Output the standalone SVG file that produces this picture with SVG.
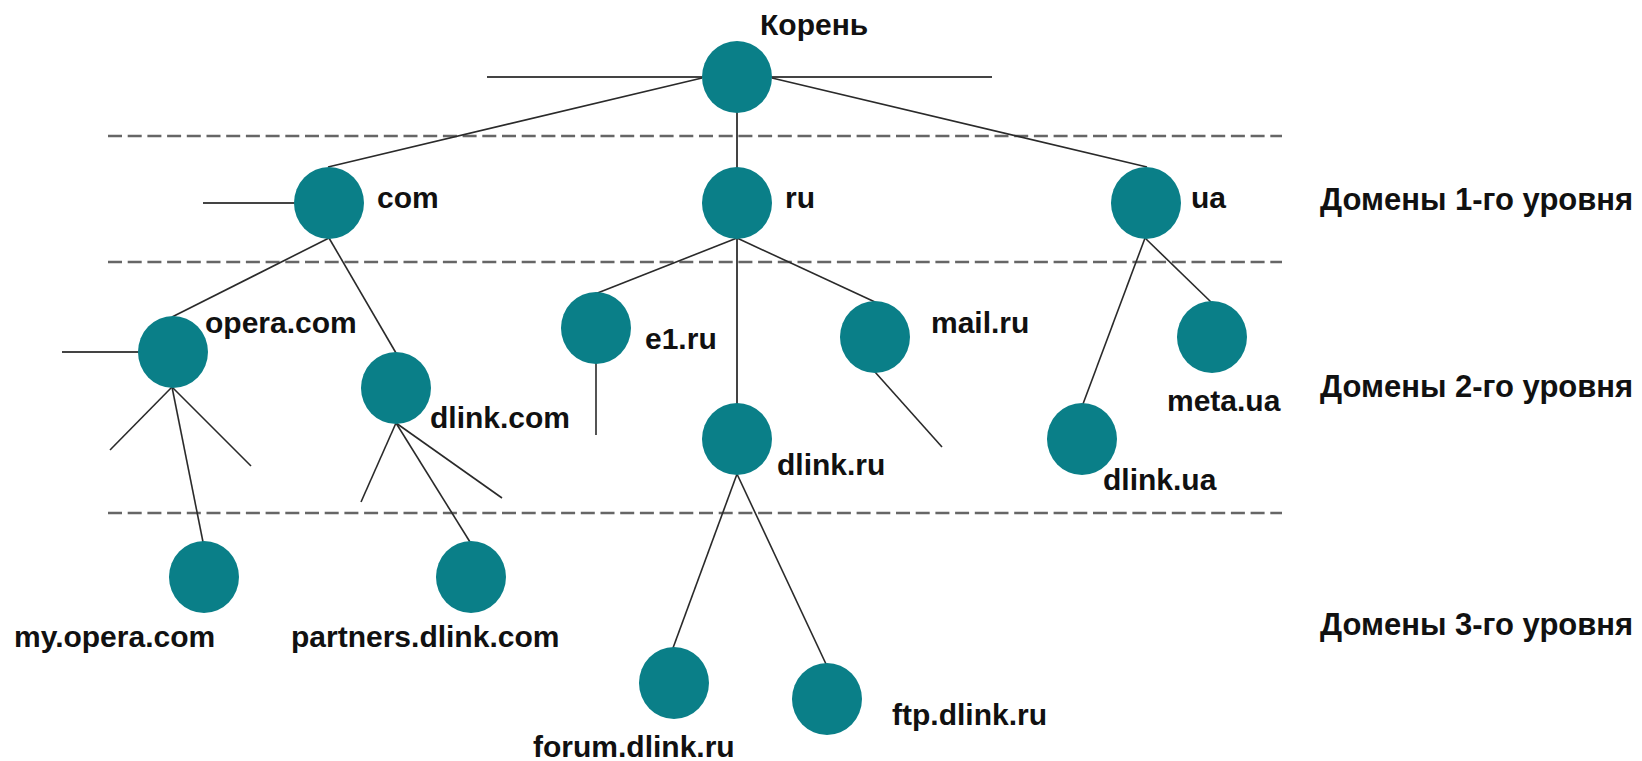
<svg xmlns="http://www.w3.org/2000/svg" width="1642" height="761" viewBox="0 0 1642 761">
<style>
.bg{fill:#ffffff}
.node{fill:#0a7f88}
.edge{stroke:#2a2a2a;stroke-width:1.6;fill:none}
.stub{stroke:#444;stroke-width:2;fill:none}
.lvl{stroke:#666;stroke-width:2.5;stroke-dasharray:14 5.7;fill:none}
.lbl{font-family:"Liberation Sans",Arial,sans-serif;font-weight:bold;font-size:30px;fill:#111}
.lv{font-family:"Liberation Sans",Arial,sans-serif;font-weight:bold;font-size:31px;fill:#111}
</style>
<rect class="bg" x="0" y="0" width="1642" height="761"/>
<g id="levels">
<line class="lvl" x1="108" y1="136" x2="1282" y2="136"/>
<line class="lvl" x1="108" y1="262" x2="1282" y2="262"/>
<line class="lvl" x1="108" y1="513" x2="1282" y2="513"/>
<text class="lv" x="1320" y="210">Домены 1-го уровня</text>
<text class="lv" x="1320" y="397">Домены 2-го уровня</text>
<text class="lv" x="1320" y="635">Домены 3-го уровня</text>
</g>
<g id="connectors">
<line class="stub" x1="487" y1="77" x2="992" y2="77"/>
<line class="edge" x1="702" y1="78" x2="328" y2="167"/>
<line class="edge" x1="772" y1="78" x2="1147" y2="167"/>
<line class="stub" x1="737" y1="110" x2="737" y2="170"/>
<line class="stub" x1="203" y1="203" x2="296" y2="203"/>
<line class="edge" x1="329" y1="238" x2="172" y2="317"/>
<line class="edge" x1="329" y1="238" x2="396" y2="353"/>
<line class="stub" x1="62" y1="352" x2="139" y2="352"/>
<line class="edge" x1="172" y1="387" x2="110" y2="450"/>
<line class="edge" x1="172" y1="387" x2="251" y2="466"/>
<line class="edge" x1="172" y1="387" x2="203" y2="542"/>
<line class="edge" x1="396" y1="423" x2="361" y2="502"/>
<line class="edge" x1="396" y1="423" x2="502" y2="498"/>
<line class="edge" x1="396" y1="423" x2="470" y2="542"/>
<line class="edge" x1="737" y1="238" x2="595" y2="294"/>
<line class="edge" x1="737" y1="238" x2="875" y2="302"/>
<line class="stub" x1="737" y1="236" x2="737" y2="405"/>
<line class="edge" x1="596" y1="362" x2="596" y2="435"/>
<line class="edge" x1="875" y1="372" x2="942" y2="447"/>
<line class="edge" x1="737" y1="474" x2="673" y2="648"/>
<line class="edge" x1="737" y1="474" x2="826" y2="664"/>
<line class="edge" x1="1145" y1="238" x2="1211" y2="302"/>
<line class="edge" x1="1145" y1="238" x2="1083" y2="404"/>
</g>
<g id="root"><ellipse class="node" cx="737" cy="77" rx="35" ry="36"/><text class="lbl" x="760" y="35">Корень</text></g>
<g id="com"><ellipse class="node" cx="329" cy="203" rx="35" ry="36"/><text class="lbl" x="377" y="208">com</text></g>
<g id="ru"><ellipse class="node" cx="737" cy="203" rx="35" ry="36"/><text class="lbl" x="785" y="208">ru</text></g>
<g id="ua"><ellipse class="node" cx="1146" cy="203" rx="35" ry="36"/><text class="lbl" x="1191" y="208">ua</text></g>
<g id="opera-com"><ellipse class="node" cx="173" cy="352" rx="35" ry="36"/><text class="lbl" x="205" y="333">opera.com</text></g>
<g id="dlink-com"><ellipse class="node" cx="396" cy="388" rx="35" ry="36"/><text class="lbl" x="430" y="428">dlink.com</text></g>
<g id="e1-ru"><ellipse class="node" cx="596" cy="328" rx="35" ry="36"/><text class="lbl" x="645" y="349">e1.ru</text></g>
<g id="mail-ru"><ellipse class="node" cx="875" cy="337" rx="35" ry="36"/><text class="lbl" x="931" y="333">mail.ru</text></g>
<g id="dlink-ru"><ellipse class="node" cx="737" cy="439" rx="35" ry="36"/><text class="lbl" x="777" y="475">dlink.ru</text></g>
<g id="meta-ua"><ellipse class="node" cx="1212" cy="337" rx="35" ry="36"/><text class="lbl" x="1167" y="411">meta.ua</text></g>
<g id="dlink-ua"><ellipse class="node" cx="1082" cy="439" rx="35" ry="36"/><text class="lbl" x="1103" y="490">dlink.ua</text></g>
<g id="my-opera-com"><ellipse class="node" cx="204" cy="577" rx="35" ry="36"/><text class="lbl" x="14" y="647">my.opera.com</text></g>
<g id="partners-dlink-com"><ellipse class="node" cx="471" cy="577" rx="35" ry="36"/><text class="lbl" x="291" y="647">partners.dlink.com</text></g>
<g id="forum-dlink-ru"><ellipse class="node" cx="674" cy="683" rx="35" ry="36"/><text class="lbl" x="533" y="757">forum.dlink.ru</text></g>
<g id="ftp-dlink-ru"><ellipse class="node" cx="827" cy="699" rx="35" ry="36"/><text class="lbl" x="892" y="725">ftp.dlink.ru</text></g>
</svg>
